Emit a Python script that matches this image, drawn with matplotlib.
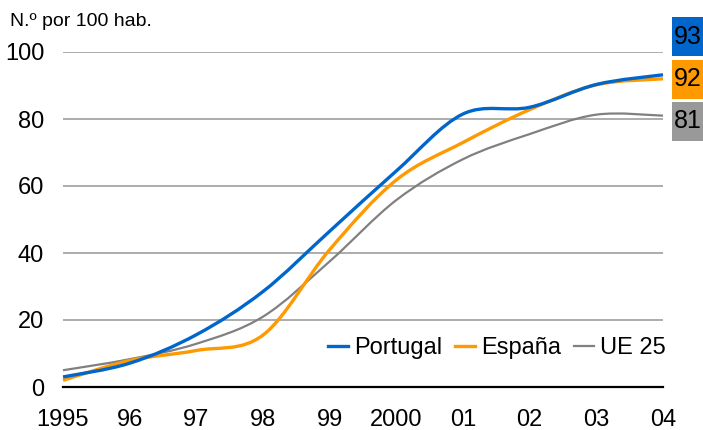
import matplotlib
matplotlib.use("Agg")
import matplotlib.pyplot as plt
from matplotlib.path import Path
from matplotlib.patches import PathPatch, Rectangle
from matplotlib.lines import Line2D

plt.rcParams['font.family'] = ['Liberation Sans', 'DejaVu Sans']

years = [1995, 1996, 1997, 1998, 1999, 2000, 2001, 2002, 2003, 2004]
tick_labels = ["1995", "96", "97", "98", "99", "2000", "01", "02", "03", "04"]
portugal = [3.0, 7.1, 15.6, 28.5, 46.5, 64.5, 81.5, 83.5, 90.3, 93.2]
espana = [2.0, 7.9, 10.9, 15.5, 41.0, 61.8, 73.0, 82.8, 90.2, 92.0]
ue25 = [5.0, 8.3, 12.9, 21.0, 37.5, 55.8, 68.0, 75.5, 81.3, 81.0]
last_labels = ["93", "92", "81"]

c_pt = "#0066CC"
c_es = "#FF9900"
c_ue = "#808080"
c_ue_box = "#999999"


def smooth_path(xs, ys):
    # excel style smoothed line: cubic bezier through every point
    n = len(xs)
    verts = [(xs[0], ys[0])]
    codes = [Path.MOVETO]
    for i in range(n - 1):
        x0, y0 = (xs[i - 1], ys[i - 1]) if i > 0 else (xs[i], ys[i])
        x1, y1 = xs[i], ys[i]
        x2, y2 = xs[i + 1], ys[i + 1]
        x3, y3 = (xs[i + 2], ys[i + 2]) if i + 2 < n else (xs[i + 1], ys[i + 1])
        c1 = (x1 + (x2 - x0) / 6.0, y1 + (y2 - y0) / 6.0)
        c2 = (x2 - (x3 - x1) / 6.0, y2 - (y3 - y1) / 6.0)
        verts += [c1, c2, (x2, y2)]
        codes += [Path.CURVE4] * 3
    return Path(verts, codes)


fig = plt.figure(figsize=(7.03, 4.30), dpi=100)
ax = fig.add_axes([63 / 703, 1 - 387 / 430, 600 / 703, 335 / 430])

ax.set_xlim(1995, 2004)
ax.set_ylim(0, 100)
for v in [20, 40, 60, 80, 100]:
    ax.axhline(v, color="#A6A6A6", lw=1.3, zorder=1)
ax.axhline(0, color="black", lw=1.6, zorder=4, clip_on=False)

for ys, col, lw in [(ue25, c_ue, 1.6), (espana, c_es, 2.4), (portugal, c_pt, 2.4)]:
    ax.add_patch(PathPatch(smooth_path(years, ys), facecolor="none",
                           edgecolor=col, lw=lw, zorder=3, clip_on=False,
                           capstyle="butt"))

for s in ax.spines.values():
    s.set_visible(False)
ax.set_xticks(years)
ax.set_xticklabels(tick_labels, fontsize=17)
ax.set_yticks([0, 20, 40, 60, 80, 100])
ax.set_yticklabels(["0", "20", "40", "60", "80", "100"], fontsize=17)
ax.tick_params(axis="both", length=0)
ax.tick_params(axis="y", pad=13.5)
ax.tick_params(axis="x", pad=16)

handles = [Line2D([], [], color=c_pt, lw=2.4),
           Line2D([], [], color=c_es, lw=2.4),
           Line2D([], [], color=c_ue, lw=1.6)]
ax.legend(handles, ["Portugal", "España", "UE 25"], ncol=3, frameon=False,
          loc="center right", bbox_to_anchor=(1.005, 0.115), fontsize=17,
          handlelength=0.85, handletextpad=0.25, columnspacing=0.55,
          borderpad=0, borderaxespad=0)

fig.text(10 / 703, 1 - 22 / 430, "N.º por 100 hab.", fontsize=14,
         va="center", ha="left")

boxes = [(17, 56, c_pt), (60, 99, c_es), (102, 141, c_ue_box)]
for (top, bot, col), lab in zip(boxes, last_labels):
    fig.patches.append(Rectangle((672 / 703, 1 - bot / 430), 31 / 703,
                                 (bot - top) / 430, transform=fig.transFigure,
                                 facecolor=col, edgecolor="none"))
    fig.text(687.5 / 703, 1 - (top + bot) / 2 / 430, lab, fontsize=18,
             ha="center", va="center")

fig.savefig("out.png", dpi=100)
